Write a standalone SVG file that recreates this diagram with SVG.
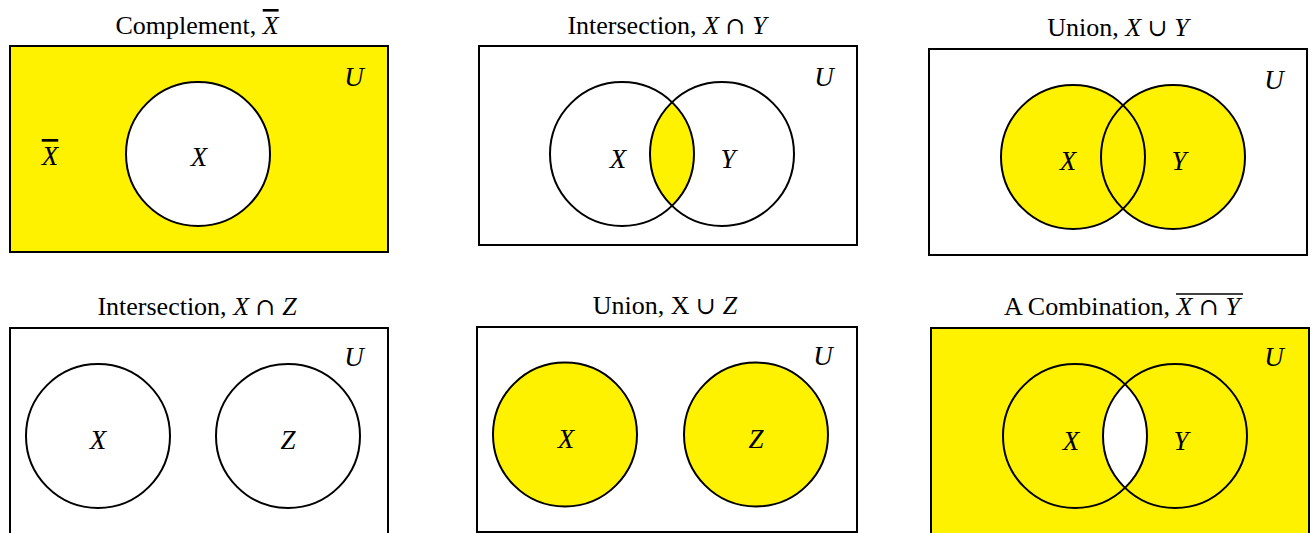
<svg xmlns="http://www.w3.org/2000/svg" width="1312" height="533" viewBox="0 0 1312 533">
<style>
.box{stroke:#000;stroke-width:2;}
.c{stroke:#000;stroke-width:2;fill:none;}
.y{fill:#FFF200;}
.w{fill:#fff;}
.t{font-family:"Liberation Serif","DejaVu Serif",serif;font-size:26px;fill:#000;text-anchor:middle;}
.v{font-family:"Liberation Serif","DejaVu Serif",serif;font-style:italic;font-size:27px;fill:#000;text-anchor:middle;}
.op{font-family:"DejaVu Serif",serif;font-style:normal;font-size:24px;}
.ol{text-decoration:overline;}
.bar{stroke:#000;stroke-width:1.5;}
</style>
<rect width="1312" height="533" fill="#fff"/>

<g id="complement">
<text class="t" x="197" y="34">Complement, <tspan font-style="italic" class="ol">X</tspan></text>
<rect class="box y" x="10" y="46" width="378" height="206"/>
<circle class="c w" cx="198" cy="154" r="72"/>
<text class="v" x="199" y="166">X</text>
<text class="v" x="50" y="165"><tspan class="ol">X</tspan></text>
<text class="v" x="354" y="86">U</text>
</g>

<g id="intersection-xy">
<text class="t" x="667" y="34">Intersection, <tspan font-style="italic">X</tspan> <tspan class="op">∩</tspan> <tspan font-style="italic">Y</tspan></text>
<rect class="box" x="479" y="46" width="378" height="199" fill="#fff"/>
<path class="y" d="M672 102.2 A72 72 0 0 1 672 205.8 A72 72 0 0 1 672 102.2 Z"/>
<circle class="c" cx="622" cy="154" r="72"/>
<circle class="c" cx="722" cy="154" r="72"/>
<text class="v" x="618" y="168">X</text>
<text class="v" x="728" y="168">Y</text>
<text class="v" x="824" y="86">U</text>
</g>

<g id="union-xy">
<text class="t" x="1118" y="36">Union, <tspan font-style="italic">X</tspan> <tspan class="op">∪</tspan> <tspan font-style="italic">Y</tspan></text>
<rect class="box" x="929" y="49" width="378" height="206" fill="#fff"/>
<circle class="y" cx="1073" cy="157" r="72"/>
<circle class="y" cx="1173" cy="157" r="72"/>
<circle class="c" cx="1073" cy="157" r="72"/>
<circle class="c" cx="1173" cy="157" r="72"/>
<text class="v" x="1068" y="170">X</text>
<text class="v" x="1179" y="170">Y</text>
<text class="v" x="1274" y="89">U</text>
</g>

<g id="intersection-xz">
<text class="t" x="197" y="315">Intersection, <tspan font-style="italic">X</tspan> <tspan class="op">∩</tspan> <tspan font-style="italic">Z</tspan></text>
<rect class="box" x="10" y="328" width="378" height="215" fill="#fff"/>
<circle class="c" cx="98" cy="436" r="72"/>
<circle class="c" cx="288" cy="436" r="72"/>
<text class="v" x="98" y="449">X</text>
<text class="v" x="288" y="449">Z</text>
<text class="v" x="354" y="366">U</text>
</g>

<g id="union-xz">
<text class="t" x="665" y="314">Union, X <tspan class="op">∪</tspan> <tspan font-style="italic">Z</tspan></text>
<rect class="box" x="477" y="327" width="380" height="205" fill="#fff"/>
<circle class="c y" cx="565" cy="434.5" r="72"/>
<circle class="c y" cx="756" cy="434.5" r="72"/>
<text class="v" x="566" y="448">X</text>
<text class="v" x="756" y="448">Z</text>
<text class="v" x="823" y="365">U</text>
</g>

<g id="combination">
<text class="t" x="1122" y="315">A Combination, <tspan font-style="italic">X</tspan> <tspan class="op">∩</tspan> <tspan font-style="italic">Y</tspan></text>
<line class="bar" x1="1176" y1="294" x2="1243" y2="294"/>
<rect class="box y" x="931" y="328" width="378" height="215"/>
<path class="w" d="M1125 384.2 A72 72 0 0 1 1125 487.8 A72 72 0 0 1 1125 384.2 Z"/>
<circle class="c" cx="1075" cy="436" r="72"/>
<circle class="c" cx="1175" cy="436" r="72"/>
<text class="v" x="1071" y="450">X</text>
<text class="v" x="1181" y="450">Y</text>
<text class="v" x="1274" y="366">U</text>
</g>

<g id="connectors"></g>
</svg>
